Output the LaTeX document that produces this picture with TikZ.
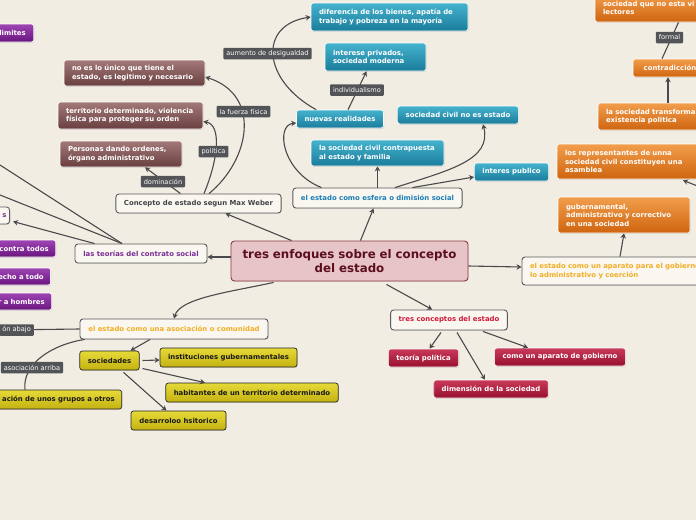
\documentclass[tikz,border=0pt]{standalone}
\usepackage{fontspec}
\setmainfont{DejaVu Sans}
\usetikzlibrary{arrows.meta,shadows,calc}
\definecolor{bgc}{HTML}{F2EDE2}
\definecolor{lineC}{HTML}{4A4A4D}
\definecolor{labfill}{HTML}{535458}
\definecolor{brownT}{HTML}{A27A78}
\definecolor{brownB}{HTML}{6A3E40}
\definecolor{blueT}{HTML}{45B3CE}
\definecolor{blueB}{HTML}{1A7C9A}
\definecolor{orangeT}{HTML}{F29E4C}
\definecolor{orangeB}{HTML}{CF640F}
\definecolor{purpleT}{HTML}{9E45B4}
\definecolor{purpleB}{HTML}{69157E}
\definecolor{yelT}{HTML}{E6DA38}
\definecolor{yelB}{HTML}{C4B212}
\definecolor{redT}{HTML}{C9395A}
\definecolor{redB}{HTML}{97102E}
\definecolor{cenfill}{HTML}{E6C4C8}
\definecolor{cenline}{HTML}{8A3A46}
\definecolor{centext}{HTML}{5C0E1E}
\definecolor{wfill}{HTML}{FAF7F0}
\definecolor{wline}{HTML}{5A5A5E}
\definecolor{tgray}{HTML}{454548}
\definecolor{tblue}{HTML}{1C7DB5}
\definecolor{tpurple}{HTML}{7A2D96}
\definecolor{torange}{HTML}{F2AE24}
\definecolor{tred}{HTML}{D0173A}
\tikzset{
  every node/.style={font=\fontsize{6.9}{8.5}\selectfont\bfseries},
  cbox/.style={rounded corners=2.5pt, draw=white, line width=0.6pt, text=white,
    inner xsep=8pt, inner ysep=2pt,
    drop shadow={shadow xshift=0.6pt, shadow yshift=-0.9pt, opacity=0.25}},
  brownbox/.style={cbox, top color=brownT, bottom color=brownB},
  bluebox/.style={cbox, top color=blueT, bottom color=blueB},
  orangebox/.style={cbox, top color=orangeT, bottom color=orangeB},
  purplebox/.style={cbox, top color=purpleT, bottom color=purpleB},
  redbox/.style={cbox, top color=redT, bottom color=redB},
  yelbox/.style={cbox, top color=yelT, bottom color=yelB, draw=black!85, text=black!90, line width=0.7pt},
  wbox/.style={rounded corners=3pt, draw=wline, line width=0.9pt, fill=wfill,
    inner xsep=8pt, inner ysep=2pt,
    drop shadow={shadow xshift=0.6pt, shadow yshift=-0.9pt, opacity=0.2}},
  centralbox/.style={rounded corners=3.5pt, draw=cenline, line width=0.9pt, fill=cenfill,
    text=centext, font=\fontsize{11.8}{13.5}\selectfont\bfseries, inner xsep=5pt,
    drop shadow={shadow xshift=0.6pt, shadow yshift=-0.9pt, opacity=0.2}},
  lab/.style={fill=labfill, text=white, font=\fontsize{6.6}{7.5}\selectfont,
    rounded corners=1pt, inner xsep=3pt, inner ysep=1.5pt, minimum height=11.5pt},
  conn/.style={draw=lineC, line width=1.1pt},
  arr/.style={conn, -{Stealth[length=5pt,width=5.5pt]}},
}
\begin{document}
\begin{tikzpicture}[x=1pt,y=-1pt]
\useasboundingbox (0,0) rectangle (696,520);
\fill[bgc] (0,0) rectangle (696,520);

% central
\node[centralbox, text width=227pt, minimum height=40pt, align=center] (cen) at (349.5,261) {tres enfoques sobre el concepto\\del estado};

% brown
\node[brownbox, text width=125pt, minimum height=26pt, align=left] (noes) at (134.5,73) {no es lo único que tiene el\\estado, es legitimo y necesario};
\node[brownbox, text width=129pt, minimum height=27pt, align=left] (terr) at (130.5,115.5) {territorio determinado, violencia\\física para proteger su orden};
\node[brownbox, text width=106pt, minimum height=26pt, align=left] (pers) at (121,154) {Personas dando ordenes,\\órgano administrativo};

% blue
\node[bluebox, text width=141pt, minimum height=28pt, align=left] (dif) at (389.5,17) {diferencia de los bienes, apatía de\\trabajo y pobreza en la mayoría};
\node[bluebox, text width=85pt, minimum height=28pt, align=left] (intp) at (375.5,57) {interese privados,\\sociedad moderna};
\node[bluebox, minimum width=86pt, minimum height=18pt] (nuev) at (340,119) {nuevas realidades};
\node[bluebox, minimum width=120pt, minimum height=18pt] (scne) at (458,115) {sociedad civil no es estado};
\node[bluebox, text width=117pt, minimum height=26pt, align=left] (scc) at (377.5,153) {la sociedad civil contrapuesta\\al estado y familia};
\node[bluebox, minimum width=73pt, minimum height=18pt] (intpub) at (511.5,172) {interes publico};

% white
\node[wbox, text=tgray, minimum width=165pt, minimum height=19pt] (weber) at (198.5,203.5) {Concepto de estado segun Max Weber};
\node[wbox, text=tblue, minimum width=169pt, minimum height=20pt] (esfera) at (377.5,198) {el estado como esfera o dimisión social};
\node[wbox, text=tpurple, minimum width=132pt, minimum height=19pt] (teorias) at (141,253.5) {las teorías del contrato social};
\node[wbox, text=torange, minimum width=188pt, minimum height=20pt] (asoc) at (174,329) {el estado como una asociación o comunidad};
\node[wbox, text=torange, text width=184pt, minimum height=28pt, align=left] (aparato) at (622,271) {el estado como un aparato para el gobierno,\\lo administrativo y coerción};
\node[wbox, text=tred, minimum width=116pt, minimum height=20pt] (tresc) at (449,320) {tres conceptos del estado};
\node[wbox, text=tpurple, text width=22pt, align=right, minimum height=17pt, anchor=east, inner xsep=3pt] (sbox) at (10,215.5) {s};

% yellow
\node[yelbox, minimum width=59pt, minimum height=19pt] (soc) at (109.5,360.5) {sociedades};
\node[yelbox, minimum width=137pt, minimum height=19pt] (inst) at (228.5,357.5) {instituciones gubernamentales};
\node[yelbox, minimum width=172pt, minimum height=19pt] (hab) at (252,392.5) {habitantes de un territorio determinado};
\node[yelbox, minimum width=95pt, minimum height=19pt] (des) at (178.5,420.5) {desarroloo hsitorico};
\node[yelbox, text width=130pt, align=right, minimum height=19pt, anchor=east, inner xsep=7pt] (grupos) at (122,399.5) {ación de unos grupos a otros};

% red
\node[redbox, minimum width=69pt, minimum height=18pt] (teo) at (423.5,358) {teoría política};
\node[redbox, minimum width=130pt, minimum height=18pt] (apgob) at (560,357) {como un aparato de gobierno};
\node[redbox, minimum width=114pt, minimum height=18pt] (dim) at (491,389) {dimensión de la sociedad};

% orange
\node[orangebox, text width=119pt, minimum height=28pt, align=left] (socvi) at (662.5,8) {sociedad que no esta vi\\lectores};
\node[orangebox, minimum width=74pt, minimum height=18pt] (contr) at (670,68) {contradicción};
\node[orangebox, text width=124pt, minimum height=27pt, align=left] (soctr) at (668,116.5) {la sociedad transforma\\existencia politica};
\node[orangebox, text width=147pt, minimum height=35pt, align=left] (repr) at (638.5,161.5) {los representantes de unna\\sociedad civil constituyen una\\asamblea};
\node[orangebox, text width=116pt, minimum height=36pt, align=left] (gub) at (624,215) {gubernamental,\\administrativo y correctivo\\en una sociedad};

% purple (cut by the left edge)
\node[purplebox, text width=60pt, align=right, minimum height=18pt, anchor=east] (ilim) at (34,33) {ilimites};
\node[purplebox, text width=70pt, align=right, minimum height=17pt, anchor=east, inner xsep=7pt] (ctodos) at (56,248.5) {contra todos};
\node[purplebox, text width=70pt, align=right, minimum height=17pt, anchor=east, inner xsep=7pt] (etodo) at (51,276.5) {echo a todo};
\node[purplebox, text width=70pt, align=right, minimum height=17pt, anchor=east, inner xsep=7pt] (hombres) at (52,301.5) {r a hombres};

% free ends
\coordinate (offA) at (0,165);
\coordinate (offB) at (0,195);
\coordinate (offR) at (700,187);

% connectors from central
\draw[arr] ($(cen.north west)+(61,0)$) -- ($(weber.south)+(27,0)$);
\draw[arr] ([yshift=4pt]cen.west) -- ([yshift=-3.5pt]teorias.east);
\draw[arr] ($(cen.north)+(11,0)$) -- ($(esfera.south)+(-4,0)$);
\draw[arr] ([yshift=-5pt]cen.east) -- ([yshift=4pt]aparato.west);
\draw[arr] ($(cen.south)+(37,3)$) -- ($(tresc.north west)+(42,0)$);
\draw[arr] ($(cen.south west)+(43,1)$) .. controls (230,292) and (180,298) .. (asoc.north);

% Weber
\draw[arr] ($(weber.north)+(-18,0)$) -- ($(pers.south)+(24,0)$);
\draw[arr] ($(weber.north)+(5.5,0)$) .. controls (218,160) and (222,125) .. ([yshift=-6pt]terr.east);
\draw[arr] ($(weber.north)+(10.5,0)$) .. controls (250,160) and (262,95) .. ([yshift=-4pt]noes.east);

% esfera
\draw[arr] ($(esfera.north west)+(29,0)$) .. controls (282,172) and (275,125) .. ([yshift=-4pt]nuev.west);
\draw[arr] (esfera.north) -- (scc.south);
\draw[arr] ($(esfera.north)+(35,0)$) -- ([yshift=-5pt]intpub.west);
\draw[arr] ($(esfera.north)+(17.5,0)$) .. controls (450,170) and (492,160) .. ($(scne.south)+(25,0)$);

% nuevas realidades
\draw[arr] ($(nuev.north west)+(20,0)$) .. controls (262,80) and (258,25) .. (dif.west);
\draw[arr] ($(nuev.north)+(8,0)$) -- ($(intp.south)+(-9,0)$);

% teorias
\draw[arr] ($(teorias.north west)+(20,0)$) -- ($(sbox.east)+(3,6)$);
\draw[conn] ($(teorias.north)+(-19,0)$) -- (offA);
\draw[conn] ($(teorias.north)+(-19,0)$) -- (offB);

% asociacion
\draw[conn] (asoc.west) -- (0,330);
\draw[conn] ($(asoc.south west)+(5,0)$) .. controls (50,345) and (22,365) .. ($(grupos.north east)+(-97,0)$);
\draw[arr] ($(asoc.south)+(-24,0)$) -- ($(soc.north)+(21,0)$);
\draw[arr] ([xshift=3pt]soc.east) -- ([yshift=-2.5pt]inst.west);
\draw[arr] ([xshift=3pt,yshift=-8pt]soc.east) -- ($(hab.north)+(-47,0)$);
\draw[arr] ($(soc.south)+(14,2)$) -- ($(des.north)+(-12,0)$);

% tres conceptos
\draw[arr] ($(tresc.south)+(-8,2)$) -- ($(teo.north)+(6,0)$);
\draw[arr] ($(tresc.south)+(8,2)$) -- ($(dim.north)+(-6,0)$);
\draw[arr] ($(tresc.south)+(34,1)$) -- ($(apgob.north)+(-32,0)$);

% aparato / orange chain
\draw[arr] ($(aparato.north)+(-2,0)$) -- (gub.south);
\draw[arr] (soctr.north) -- ($(contr.south)+(-2,0)$);
\draw[conn] ($(contr.north)+(-8,0)$) -- ($(socvi.south)+(16,0)$);
\draw[arr] (offR) -- ($(repr.south)+(44.5,1)$);

% labels on connectors
\node[lab] (l1) at (267.5,53.5) {aumento de desigualdad};
\node[lab] (l2) at (357,90) {individualismo};
\node[lab] (l3) at (243.5,111.5) {la fuerza física};
\node[lab] (l4) at (213.5,151.5) {política};
\node[lab] (l5) at (163,181.5) {dominación};
\node[lab] (l6) at (669.5,37.5) {formal};
\node[lab, anchor=east] (l7) at (34,330) {ón abajo};
\node[lab] (l8) at (32,367.5) {asociación arriba};
\end{tikzpicture}
\end{document}
